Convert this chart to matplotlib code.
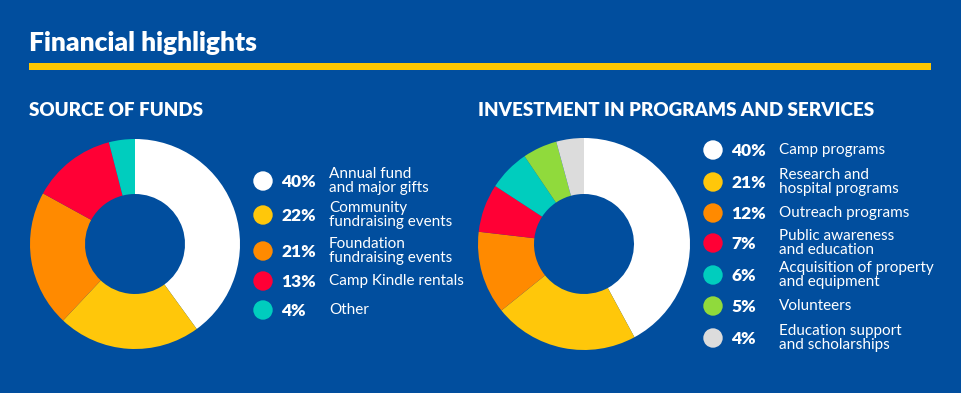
import matplotlib.pyplot as plt
from matplotlib.patches import Circle

W, H = 961, 393
BG = '#014e9e'

plt.rcParams['font.family'] = ['Lato', 'DejaVu Sans']

# data
funds_pct = [40, 22, 21, 13, 4]
funds_labels = ['Annual fund\nand major gifts', 'Community\nfundraising events',
                'Foundation\nfundraising events', 'Camp Kindle rentals', 'Other']
funds_colors = ['#ffffff', '#ffc70a', '#ff8a00', '#ff0035', '#00cdbe']

prog_pct = [40, 21, 12, 7, 6, 5, 4]
prog_labels = ['Camp programs', 'Research and\nhospital programs', 'Outreach programs',
               'Public awareness\nand education', 'Acquisition of property\nand equipment',
               'Volunteers', 'Education support\nand scholarships']
prog_colors = ['#ffffff', '#ffc70a', '#ff8a00', '#ff0035', '#00cdbe', '#90da3c', '#dcdcdc']

fig = plt.figure(figsize=(W / 100, H / 100), dpi=100, facecolor=BG)

# overlay axes in pixel coords (y down)
bg = fig.add_axes([0, 0, 1, 1])
bg.set_xlim(0, W)
bg.set_ylim(H, 0)
bg.axis('off')

bg.text(29, 43, 'Financial highlights', color='white', fontsize=19, fontweight='heavy',
        va='center', ha='left')
bg.fill_between([29, 931], 63, 70, color='#ffc700', linewidth=0)
bg.text(29, 110, 'SOURCE OF FUNDS', color='white', fontsize=13.5, fontweight='heavy',
        va='center', ha='left')
bg.text(478, 110, 'INVESTMENT IN PROGRAMS AND SERVICES', color='white', fontsize=13.5,
        fontweight='heavy', va='center', ha='left')


def donut(cx, cy, r, vals, colors):
    ax = fig.add_axes([(cx - r) / W, 1 - (cy + r) / H, 2 * r / W, 2 * r / H])
    ax.pie(vals, colors=colors, startangle=90, counterclock=False, radius=1,
           wedgeprops=dict(width=1 - 50 / r, linewidth=0))
    ax.set_xlim(-1, 1)
    ax.set_ylim(-1, 1)
    ax.set_aspect('equal')
    ax.axis('off')


donut(135, 244, 105, funds_pct, funds_colors)
donut(584, 244, 106, prog_pct, prog_colors)


def legend(x, ys, pcts, labels, colors):
    for y, p, lab, c in zip(ys, pcts, labels, colors):
        bg.add_patch(Circle((x, y), 9.7, color=c, linewidth=0))
        bg.text(x + 18, y + 1, f'{p}%', color='white', fontsize=12.5, fontweight='heavy',
                va='center', ha='left')
        bg.text(x + 66, y, lab, color='white', fontsize=11, va='center', ha='left',
                linespacing=1.0)


legend(263, [181, 215, 251, 281, 310], funds_pct, funds_labels, funds_colors)
legend(713, [150, 182, 213, 243, 275, 306, 338], prog_pct, prog_labels, prog_colors)

fig.savefig('out.png', dpi=100, facecolor=BG)
